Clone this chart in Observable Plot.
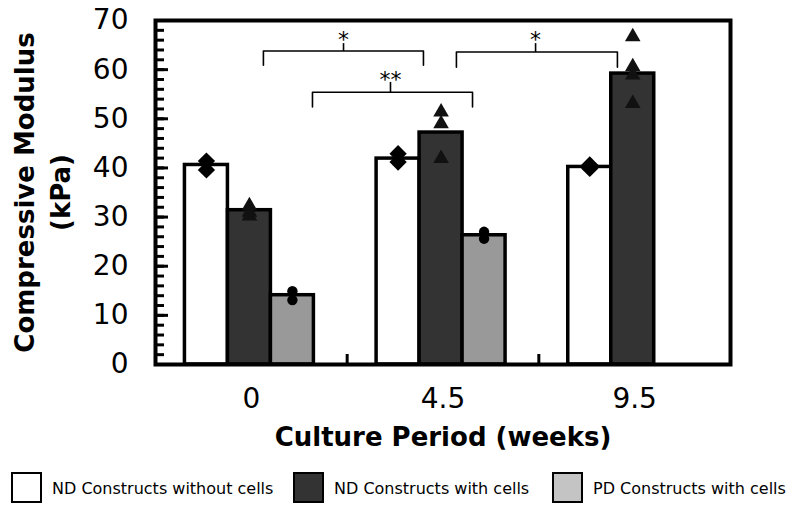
<!DOCTYPE html>
<html>
<head>
<meta charset="utf-8">
<script src="https://cdn.jsdelivr.net/npm/d3@7"></script>
<script src="https://cdn.jsdelivr.net/npm/@observablehq/plot@0.6"></script>
<style>
  body { margin: 0; background: #fff; }
  #wrap { width: 792px; font-family: "DejaVu Sans", Verdana, sans-serif; }
  .legend { position: relative; width: 792px; height: 48px; }
  .legend .box { position: absolute; top: 7px; width: 31px; height: 31px; box-sizing: border-box; border: 2.5px solid #000; }
  .legend .lab { position: absolute; top: 23px; transform: translateY(-50%); font-size: 16px; color: #000; white-space: nowrap; }
</style>
</head>
<body>
<div id="wrap"></div>
<script>
// ---- data ----
const periods = ["0", "4.5", "9.5"];
const seriesNames = ["ND Constructs without cells", "ND Constructs with cells", "PD Constructs with cells"];
const seriesFill = ["#ffffff", "#333333", "#999999"];
const legendFill = ["#ffffff", "#333333", "#c4c4c4"];

const ndWithout = [40.6, 41.9, 40.2];
const ndWith = [31.4, 47.2, 59.2];
const pdWith = [14.1, 26.3, null];

const ndWithoutPts = [[41.4, 39.6], [42.9, 41.2], [40.6, 39.9]];
const ndWithPts = [[32.3, 31.0, 30.2], [51.4, 49.0, 41.9], [66.7, 60.6, 58.9, 53.1]];
const pdWithPts = [[14.9, 13.1], [27.0, 25.6], []];

const yMajorTicks = [0, 10, 20, 30, 40, 50, 60, 70];
const yMinorTicks = d3.range(0, 71, 2);
const groupBoundaries = [0.5, 1.5, 2.5];

// significance brackets (x in group units, y in kPa)
const bracketX1 = [0.063, 0.319, 1.070];
const bracketX2 = [0.898, 1.154, 1.910];
const bracketMid = [0.481, 0.726, 1.483];
const bracketY = [63.8, 55.4, 63.6];
const bracketLeg = [60.9, 52.4, 60.5];
const bracketTop = [65.4, 57.5, 65.4];
const bracketLabelY = [66.0, 58.0, 66.0];
const bracketLabel = ["*", "**", "*"];

// ---- derived tables ----
const barW = 0.2243;
const shift = -0.01;
const slot = (g, s) => g + shift + (s - 1.5) * barW;
const means = [ndWithout, ndWith, pdWith];
const bars = [];
means.forEach((arr, s) => arr.forEach((v, g) => { if (v != null) bars.push({g, s, v}); }));
const pts = [];
[ndWithoutPts, ndWithPts, pdWithPts].forEach((arr, s) => arr.forEach((list, g) => list.forEach(v => pts.push({g, s, v}))));
const brackets = bracketLabel.map((label, i) => ({i, label, x1: bracketX1[i], x2: bracketX2[i], xm: bracketMid[i], y: bracketY[i], leg: bracketLeg[i], top: bracketTop[i], ly: bracketLabelY[i]}));
const bracketPaths = brackets.flatMap(b => [
  {i: b.i, x: b.x1, y: b.leg}, {i: b.i, x: b.x1, y: b.y}, {i: b.i, x: b.x2, y: b.y}, {i: b.i, x: b.x2, y: b.leg}
]);

const W = 792, H = 465, mL = 155, mR = 62, mT = 20, mB = 101;
const frameW = W - mL - mR, frameH = H - mT - mB;

const chart = Plot.plot({
  width: W, height: H,
  marginLeft: mL, marginRight: mR, marginTop: mT, marginBottom: mB,
  style: {fontFamily: "DejaVu Sans, Verdana, sans-serif", color: "#000", background: "#fff"},
  x: {domain: [-0.5, 2.5]},
  y: {domain: [0, 70]},
  marks: [
    Plot.rectY(bars, {x1: d => slot(d.g, d.s), x2: d => slot(d.g, d.s) + barW, y1: 0, y2: d => d.v,
      fill: d => seriesFill[d.s], stroke: "#000", strokeWidth: 3.5}),
    Plot.dot(pts.filter(d => d.s === 0), {x: d => slot(d.g, d.s) + barW / 2, y: "v", symbol: "square", rotate: 45, r: 6.9, fill: "#000"}),
    Plot.dot(pts.filter(d => d.s === 1), {x: d => slot(d.g, d.s) + barW / 2, y: "v", symbol: "triangle", r: 5.8, fill: "#111"}),
    Plot.dot(pts.filter(d => d.s === 2), {x: d => slot(d.g, d.s) + barW / 2, y: "v", symbol: "circle", r: 5.2, fill: "#000"}),
    Plot.line(bracketPaths, {x: "x", y: "y", z: "i", stroke: "#000", strokeWidth: 1.6}),
    Plot.link(brackets, {x1: "xm", x2: "xm", y1: "y", y2: "top", stroke: "#000", strokeWidth: 1.6}),
    Plot.text(brackets, {x: "xm", y: "ly", text: "label", fontSize: 22, fill: "#000"}),
    Plot.tickY(yMinorTicks, {y: d => d, insetRight: frameW - 9, stroke: "#000", strokeWidth: 3}),
    Plot.tickY(yMajorTicks, {y: d => d, insetRight: frameW - 13, stroke: "#000", strokeWidth: 3}),
    Plot.tickX(groupBoundaries, {x: d => d, insetTop: frameH - 10, stroke: "#000", strokeWidth: 3}),
    Plot.frame({stroke: "#000", strokeWidth: 4}),
    Plot.axisY({ticks: yMajorTicks, tickSize: 0, tickPadding: 27, fontSize: 28, label: null}),
    Plot.axisX({ticks: [0, 1, 2], tickFormat: i => periods[i], tickSize: 0, tickPadding: 24, fontSize: 28, label: null}),
    Plot.text(["Compressive Modulus\n(kPa)"], {frameAnchor: "left", textAnchor: "middle", rotate: -90, dx: -115, lineHeight: 1.38,
      fontSize: 26, fontWeight: "bold", fill: "#000"}),
    Plot.text(["Culture Period (weeks)"], {frameAnchor: "bottom", dy: 81, fontSize: 26, fontWeight: "bold", fill: "#000"})
  ]
});

const wrap = document.getElementById("wrap");
wrap.appendChild(chart);

const legend = document.createElement("div");
legend.className = "legend";
const boxLeft = [11, 293, 552];
seriesNames.forEach((name, i) => {
  const b = document.createElement("div");
  b.className = "box";
  b.style.left = boxLeft[i] + "px";
  b.style.background = legendFill[i];
  legend.appendChild(b);
  const t = document.createElement("div");
  t.className = "lab";
  t.style.left = (boxLeft[i] + 41) + "px";
  t.textContent = name;
  legend.appendChild(t);
});
wrap.appendChild(legend);
</script>
</body>
</html>
